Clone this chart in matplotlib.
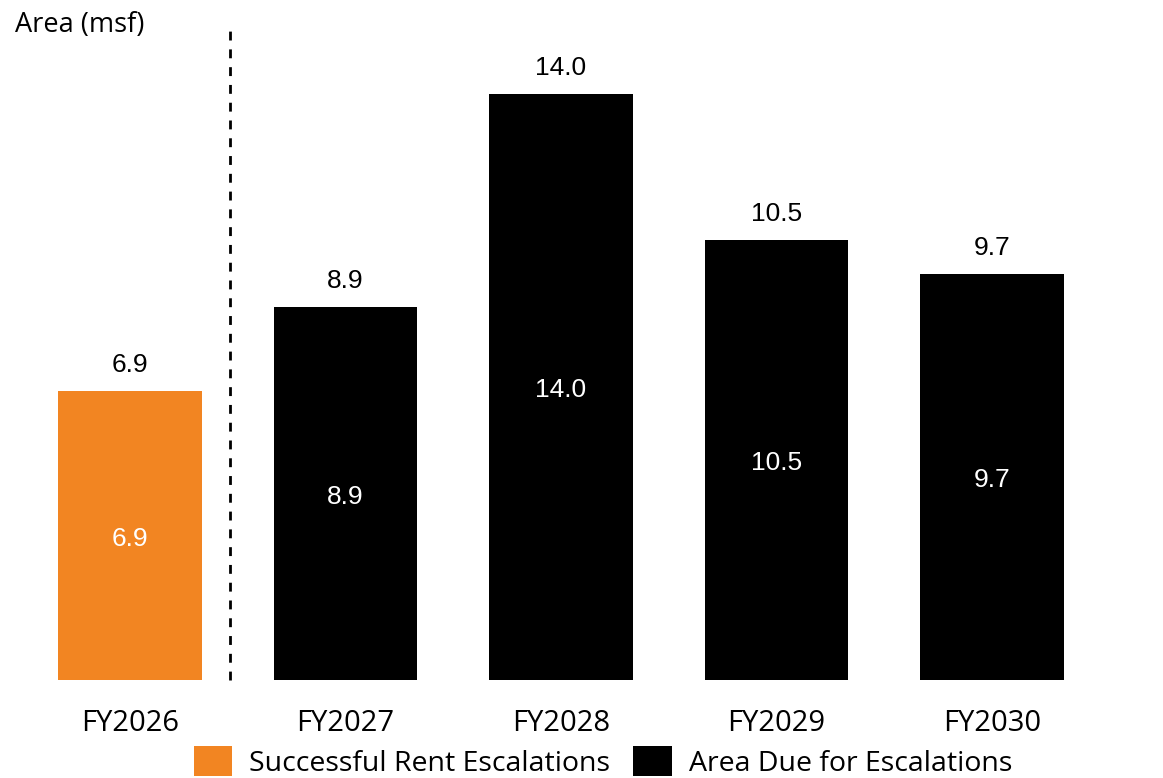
import matplotlib
matplotlib.use("Agg")
import matplotlib.pyplot as plt
from matplotlib.patches import Patch
from matplotlib.transforms import offset_copy

# Data
categories = ["FY2026", "FY2027", "FY2028", "FY2029", "FY2030"]
values = [6.9, 8.9, 14.0, 10.5, 9.7]
series_names = ["Successful Rent Escalations", "Area Due for Escalations"]
series_of_bar = [0, 1, 1, 1, 1]
series_colors = ["#F28522", "#000000"]
axis_title = "Area (msf)"

num_font = ["Liberation Sans", "DejaVu Sans"]
txt_font = ["Open Sans", "DejaVu Sans"]

W, H, DPI = 1163, 778, 100
fig = plt.figure(figsize=(W / DPI, H / DPI), dpi=DPI)

# Axes spans the full width; baseline sits at pixel row 680 from top
base_px = 680
ax = fig.add_axes([0, (H - base_px) / H, 1, base_px / H])
px_per_cat = 215.5
first_center = 130
ax.set_xlim(-first_center / px_per_cat, (W - first_center) / px_per_cat)
px_per_unit = 41.86
ax.set_ylim(0, base_px / px_per_unit)

x = list(range(len(categories)))
colors = [series_colors[s] for s in series_of_bar]
bars = ax.bar(x, values, width=0.668, color=colors, zorder=2)

above_tr = offset_copy(ax.transData, fig=fig, x=0, y=26, units="dots")
inside_tr = offset_copy(ax.transData, fig=fig, x=0, y=-3, units="dots")
for xi, v, s in zip(x, values, series_of_bar):
    label = f"{v:.1f}"
    # value above the bar
    ax.text(xi, v, label, transform=above_tr, ha="center", va="center",
            fontsize=19, family=num_font, color="#000000")
    # value in the middle of the bar
    ax.text(xi, v / 2, label, transform=inside_tr, ha="center", va="center",
            fontsize=19, family=num_font, color="#ffffff")

# Divider between actual and upcoming years
ax.plot([0.464, 0.464], [0, 15.53], color="#000000", lw=2,
        linestyle=(0, (3.2, 3.2)), zorder=1, clip_on=False)

ax.set_xticks(x)
ax.set_xticklabels(categories, fontsize=21, family=txt_font)
ax.tick_params(axis="x", length=0, pad=21)
ax.set_yticks([])
for sp in ax.spines.values():
    sp.set_visible(False)
ax.patch.set_alpha(0)

fig.text(15 / W, 1 - 25 / H, axis_title, ha="left", va="center",
         fontsize=19.5, family=txt_font)

handles = [Patch(facecolor=c, edgecolor="none") for c in series_colors]
fig.legend(handles, series_names, loc="center", ncol=2,
           bbox_to_anchor=(603 / W, 1 - 762 / H), frameon=False,
           prop={"family": txt_font, "size": 20.5},
           handlelength=1.35, handleheight=1.2, handletextpad=0.6,
           columnspacing=0.8, borderpad=0, borderaxespad=0)

fig.savefig("out.png", dpi=DPI)
